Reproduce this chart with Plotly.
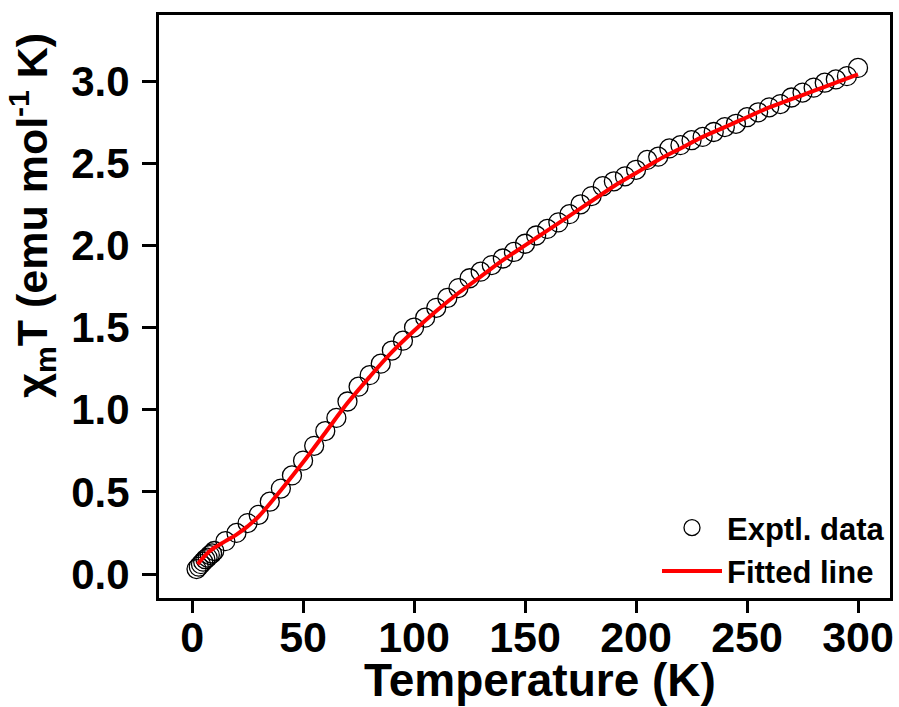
import plotly.graph_objects as go

# experimental chi_m*T vs T
temp = [2, 3, 4, 5, 6, 7, 8, 9, 10,
        15, 20, 25, 30, 35, 40, 45, 50, 55, 60, 65, 70, 75, 80, 85, 90, 95, 100,
        105, 110, 115, 120, 125, 130, 135, 140, 145, 150, 155, 160, 165, 170, 175,
        180, 185, 190, 195, 200, 205, 210, 215, 220, 225, 230, 235, 240, 245, 250,
        255, 260, 265, 270, 275, 280, 285, 290, 295, 300]
chit = [0.03, 0.045, 0.06, 0.075, 0.09, 0.10, 0.115, 0.125, 0.14,
        0.20, 0.25, 0.31, 0.36, 0.44, 0.52, 0.60, 0.69, 0.78, 0.87, 0.95, 1.05, 1.14, 1.21, 1.28, 1.36, 1.42, 1.50,
        1.56, 1.62, 1.68, 1.74, 1.80, 1.84, 1.88, 1.92, 1.96, 2.01, 2.06, 2.10, 2.14, 2.19, 2.25,
        2.30, 2.36, 2.39, 2.42, 2.46, 2.52, 2.54, 2.59, 2.61, 2.64, 2.66, 2.69, 2.72, 2.74, 2.78,
        2.81, 2.84, 2.86, 2.90, 2.93, 2.96, 2.99, 3.01, 3.03, 3.08]

# fitted curve
fit_t = [2.5, 5, 8, 10, 15, 20, 25, 30, 40, 50, 60, 70, 80, 90, 100, 110, 120, 130, 140,
         150, 160, 170, 180, 190, 200, 210, 220, 230, 240, 250, 260, 270, 280, 290, 300]
fit_chit = [0.06, 0.10, 0.14, 0.16, 0.20, 0.24, 0.29, 0.35, 0.51, 0.68, 0.86, 1.04, 1.20, 1.35, 1.48,
            1.60, 1.71, 1.81, 1.91, 2.00, 2.09, 2.18, 2.27, 2.36, 2.44, 2.52, 2.59, 2.66, 2.72,
            2.78, 2.84, 2.89, 2.94, 2.99, 3.04]

x_ticks = [0, 50, 100, 150, 200, 250, 300]
y_ticks = [0.0, 0.5, 1.0, 1.5, 2.0, 2.5, 3.0]

FONT = "Arial, Liberation Sans, sans-serif"

fig = go.Figure()
fig.add_trace(go.Scatter(
    x=temp, y=chit, mode="markers", name="<b>Exptl. data</b>",
    marker=dict(symbol="circle", size=19, color="rgba(255,255,255,0)",
                line=dict(color="black", width=1.3))))
fig.add_trace(go.Scatter(
    x=fit_t, y=fit_chit, mode="lines", name="<b>Fitted line</b>",
    line=dict(color="#ff0000", width=4, shape="spline")))

fig.update_layout(
    width=899, height=707,
    margin=dict(l=159, r=9, t=15, b=109, autoexpand=False),
    paper_bgcolor="white", plot_bgcolor="white",
    font=dict(family=FONT, color="black"),
    legend=dict(x=1, y=0, xanchor="right", yanchor="bottom",
                bgcolor="rgba(0,0,0,0)", font=dict(size=31, family=FONT),
                itemwidth=60, tracegroupgap=0),
    xaxis=dict(range=[-14.9, 314.4], tickvals=x_ticks, automargin=False,
               ticktext=["<b>%d</b>" % v for v in x_ticks],
               tickfont=dict(size=43), showgrid=False, zeroline=False,
               showline=True, linecolor="black", linewidth=3, mirror=True,
               ticks="outside", ticklen=12, tickwidth=2.5, tickcolor="black",
               ticklabelstandoff=-13),
    yaxis=dict(range=[-0.146, 3.402], tickvals=y_ticks, automargin=False,
               ticktext=["<b>%.1f</b>" % v for v in y_ticks],
               tickfont=dict(size=42), showgrid=False, zeroline=False,
               showline=True, linecolor="black", linewidth=3, mirror=True,
               ticks="outside", ticklen=14, tickwidth=2.5, tickcolor="black",
               ticklabelstandoff=4),
)

fig.add_annotation(
    text="<b>Temperature (K)</b>",
    xref="paper", yref="paper", x=0.521, y=-0.140,
    xanchor="center", yanchor="middle",
    showarrow=False, font=dict(size=46, family=FONT))

fig.add_annotation(
    text="<b>χ<sub>m</sub>T (emu mol<sup>-1</sup> K)</b>",
    xref="paper", yref="paper", x=-0.174, y=0.657,
    xanchor="center", yanchor="middle", textangle=-90,
    showarrow=False, font=dict(size=43, family=FONT))

# drop the default page margin so the figure sits at the window's corner
fig.write_html("out.html", config={"displayModeBar": False},
               post_script="document.body.style.margin='0';")
